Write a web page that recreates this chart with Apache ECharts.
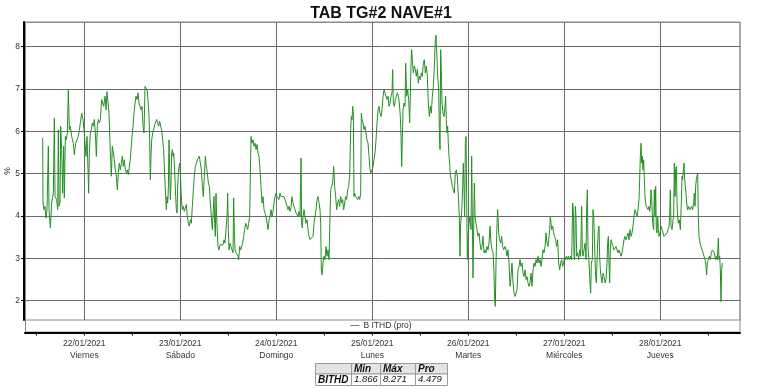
<!DOCTYPE html>
<html><head><meta charset="utf-8">
<script src="https://cdn.jsdelivr.net/npm/echarts@6/dist/echarts.min.js"></script>
<style>html,body{margin:0;padding:0;background:#fff}#c{width:762px;height:388px}</style>
</head><body><div id="c"></div>
<script>
// hours since 21/01/2021 00:00
const hours = [
13.59,13.68,13.93,14.18,14.43,14.68,15.01,15.18,15.51,15.84,
16.26,16.51,16.68,17.09,17.34,17.51,17.68,17.93,18.09,18.34,
18.59,18.84,19.01,19.26,19.51,19.76,20.01,20.26,20.51,20.84,
21.26,21.51,21.84,22.18,22.51,22.76,23.01,23.34,23.68,23.93,
24.18,24.43,24.68,24.93,25.09,25.26,25.51,25.76,26.01,26.26,
26.51,26.76,27.01,27.26,27.51,27.76,28.01,28.34,28.59,28.84,
29.18,29.43,29.68,29.93,30.18,30.43,30.59,30.76,31.01,31.26,
31.51,31.76,32.01,32.26,32.51,32.76,33.01,33.26,33.51,33.76,
34.01,34.26,34.51,34.76,35.01,35.26,35.51,35.68,35.93,36.18,
36.43,36.68,36.93,37.18,37.43,37.68,37.93,38.18,38.43,38.68,
38.93,
39.18,39.43,39.68,39.93,40.18,40.34,40.51,40.68,40.84,41.09,
41.34,41.59,41.84,42.09,42.34,42.59,42.84,43.09,43.34,43.59,
43.84,44.01,44.18,44.34,44.51,44.68,44.84,45.01,45.18,45.34,
45.51,45.68,45.84,46.01,46.18,46.34,46.51,46.68,46.84,47.01,
47.18,47.34,47.51,47.68,47.84,48.01,48.18,48.34,48.51,48.76,
49.01,49.26,49.51,49.76,50.01,50.26,50.51,50.76,51.01,51.26,
51.51,51.76,52.01,52.26,52.51,52.76,53.01,53.26,53.51,53.76,
54.01,54.26,54.51,54.76,55.01,55.26,55.51,55.76,56.01,56.26,
56.43,56.59,56.76,56.93,57.09,57.26,57.43,57.68,57.93,58.18,
58.43,58.68,58.93,59.18,59.43,59.68,59.84,60.01,60.18,60.43,
60.68,60.93,61.18,61.34,61.51,61.68,61.93,62.18,62.43,62.59,
62.84,63.09,63.34,63.59,63.84,64.09,64.34,64.59,64.84,65.09,
65.34,65.68,65.93,66.18,66.43,66.68,66.93,67.18,67.43,67.68,
67.93,68.18,68.43,68.68,68.93,
69.18,69.43,69.68,69.93,70.18,70.43,70.68,70.93,71.18,71.43,
71.68,71.93,72.18,72.43,72.68,72.93,73.18,73.43,73.68,73.93,
74.18,74.43,74.68,74.93,75.18,75.43,75.68,75.93,76.18,76.43,
76.68,76.93,77.18,77.43,77.68,77.93,78.18,78.34,78.51,78.68,
78.93,79.18,79.43,79.68,79.93,80.18,80.43,80.68,80.93,81.18,
81.43,81.68,81.93,82.18,82.43,82.68,82.93,83.09,83.26,83.43,
83.68,83.93,84.18,84.43,84.68,84.93,85.18,85.43,85.59,85.84,
86.09,86.34,86.59,86.84,87.09,87.34,87.59,87.84,88.09,88.34,
88.59,88.84,89.09,89.34,89.59,89.84,90.09,90.34,90.59,90.76,
90.93,91.09,91.26,91.43,91.59,91.84,92.09,92.34,92.59,92.84,
93.09,93.26,93.43,93.68,93.93,94.18,94.43,94.68,94.93,95.18,
95.43,95.68,95.93,96.18,96.43,96.68,96.93,97.18,97.43,97.68,
97.93,98.18,98.43,98.68,98.93,
99.18,99.43,99.68,99.93,100.18,100.43,100.68,100.93,101.09,101.26,
101.51,101.76,102.01,102.26,102.51,102.76,103.01,103.18,103.34,103.51,
103.68,103.93,104.18,104.34,104.59,104.84,105.09,105.34,105.51,105.68,
105.84,106.01,106.26,106.51,106.76,107.01,107.26,107.51,107.76,108.01,
108.26,108.51,108.76,109.01,109.26,109.51,109.76,110.01,110.26,110.51,
110.76,111.01,111.26,111.51,111.76,111.93,112.09,112.34,112.59,112.76,
112.93,113.09,113.26,113.43,113.68,113.93,114.18,114.34,114.51,114.68,
114.84,115.01,115.18,115.34,115.51,115.76,116.01,116.26,116.51,116.76,
117.01,117.26,117.51,117.76,117.93,118.09,118.34,118.59,118.76,118.93,
119.09,119.26,119.43,119.59,119.76,119.93,120.18,120.43,120.68,120.84,
121.01,121.18,121.34,121.51,121.68,121.93,122.18,122.43,122.68,122.93,
123.18,123.43,123.68,123.93,124.18,124.43,124.68,124.93,125.18,125.43,
125.68,125.93,126.18,126.43,126.59,126.76,126.93,127.18,127.34,127.59,
127.84,128.09,128.34,128.59,128.84,
129.18,129.43,129.68,129.93,130.18,130.43,130.68,130.93,131.18,131.43,
131.68,131.93,132.18,132.43,132.68,132.93,133.18,133.43,133.68,133.93,
134.18,134.43,134.68,134.93,135.18,135.43,135.68,135.93,136.18,136.43,
136.68,136.93,137.18,137.43,137.68,137.93,138.18,138.43,138.68,138.93,
139.18,139.43,139.68,139.93,140.18,140.34,140.51,140.68,140.84,141.09,
141.34,141.59,141.84,142.09,142.34,142.59,142.84,143.09,143.34,143.59,
143.84,144.09,144.34,144.59,144.84,145.09,145.34,145.59,145.84,146.09,
146.26,146.43,146.59,146.76,146.93,147.09,147.34,147.59,147.84,148.09,
148.34,148.51,148.68,148.93,149.18,149.43,149.59,149.76,149.93,150.18,
150.43,150.59,150.76,151.01,151.18,151.34,151.51,151.68,151.84,152.01,
152.18,152.34,152.51,152.68,152.84,153.01,153.18,153.43,153.68,153.93,
154.18,154.43,154.68,154.84,155.01,155.18,155.34,155.51,155.68,155.93,
156.18,156.43,156.68,156.93,157.18,157.43,157.68,157.93,158.18,158.43,
158.68,158.93,
159.18,159.43,159.68,159.93,160.18,160.43,160.68,160.93,161.18,161.43,
161.68,161.93,162.18,162.43,162.68,162.84,163.01,163.18,163.34,163.51,
163.68,163.84,164.01,164.18,164.34,164.51,164.68,164.93,165.18,165.34,
165.51,165.68,165.84,166.01,166.18,166.34,166.51,166.68,166.84,167.01,
167.18,167.34,167.51,167.68,167.93,168.18,168.43,168.68,168.93,169.18,
169.43,169.68,169.93,170.18,170.34,170.51,170.68,170.93,171.18,171.34,
171.51,171.68,171.84,172.01,172.18,172.34,172.51,172.76,173.01,173.26,
173.43,173.59,173.76,173.93,174.09,174.26,174.43,174.59,174.84,175.09,
175.34,175.59,175.84,176.09,176.34,176.51,176.68,176.84,177.01,177.18,
177.34,177.51,177.68,177.93,178.18,178.43,178.68,178.93,179.18,179.43,
179.59,179.76,180.01,180.26,180.51,180.76,181.01,181.26,181.51,181.76,
182.01,182.26,182.51,182.68,182.84,183.01,183.18,183.34,183.51
];
// B ITHD (pro) in %
const ithd = [
5.84,4.31,4.15,4.23,3.95,4.15,5.65,4.15,3.72,4.31,
4.54,6.31,4.46,4.39,4.15,6.04,4.23,4.31,6.12,5.57,
4.54,5.65,4.43,5.88,5.80,5.96,6.98,6.04,6.12,5.88,
5.72,5.45,5.72,5.80,5.88,6.04,6.20,6.43,6.28,6.04,
5.72,5.41,5.88,5.09,4.54,5.49,5.96,6.04,6.20,6.12,
6.28,5.96,5.41,6.12,6.28,6.20,6.28,6.75,6.71,6.59,
6.83,6.51,6.94,6.91,6.43,5.72,5.33,4.94,5.65,5.49,
5.33,5.09,4.94,4.62,5.02,5.25,5.09,5.25,5.41,5.17,
5.33,5.09,5.02,5.09,4.98,5.17,5.33,5.57,5.88,6.12,
6.43,6.67,6.83,6.75,6.91,6.67,6.71,6.51,6.59,6.12,
5.96,
7.06,7.10,6.98,6.75,6.35,5.80,4.86,5.41,5.80,5.96,
6.04,6.16,6.12,6.28,6.20,6.12,6.24,6.12,6.04,5.80,
5.57,5.17,4.78,4.46,4.15,4.46,4.31,4.62,5.80,5.09,
4.39,4.78,5.49,5.57,5.41,5.49,5.25,4.86,4.46,4.15,
4.07,4.70,5.02,5.17,5.25,5.02,4.62,4.31,4.15,4.23,
4.11,4.07,4.27,3.99,3.83,3.76,3.91,3.83,4.23,4.62,
4.94,5.17,5.25,5.33,5.37,5.41,5.25,5.09,4.70,4.46,
4.94,5.41,5.17,5.02,4.78,4.70,4.31,3.99,3.68,4.15,
4.46,3.83,3.52,4.54,3.99,3.60,3.28,3.20,3.32,3.28,
3.36,3.32,3.44,3.36,3.68,3.99,4.54,3.68,3.20,3.36,
3.28,3.20,3.13,4.43,3.68,3.20,3.13,3.17,3.05,2.97,
3.28,3.20,3.24,3.36,3.52,3.68,3.83,3.76,3.68,3.83,
3.99,5.88,5.72,5.80,5.65,5.72,5.57,5.69,5.49,5.41,
5.09,4.70,4.31,4.46,4.15,
4.15,3.99,3.83,3.68,3.91,3.99,4.15,3.99,4.11,4.31,
4.46,4.54,4.46,4.50,4.39,4.54,4.46,4.50,4.43,4.46,
4.50,4.31,4.23,4.15,4.23,4.11,4.19,4.46,4.31,4.23,
4.15,4.07,4.11,3.99,4.11,3.99,5.37,3.83,3.72,3.99,
4.15,3.99,3.83,3.91,3.68,3.52,3.44,3.48,3.40,3.52,
3.83,3.99,4.15,4.39,4.46,4.31,4.15,3.83,2.73,2.61,
2.89,3.05,2.97,3.28,3.05,3.20,2.97,3.99,4.62,4.70,
4.78,5.17,4.70,4.46,4.15,4.31,4.39,4.23,4.46,4.31,
4.39,4.15,4.31,4.46,4.39,4.62,4.70,4.94,6.04,6.35,
6.28,6.59,6.43,4.46,4.54,4.46,4.50,4.39,4.46,4.39,
4.54,6.43,6.28,6.20,6.04,6.12,5.96,5.80,5.72,5.41,
5.09,5.02,5.09,5.17,5.33,5.49,5.80,6.20,6.51,6.59,
6.43,6.35,6.51,6.83,6.98,
7.02,6.83,6.75,6.83,6.59,6.67,6.83,6.91,7.46,6.67,
6.59,6.75,6.83,6.91,6.83,6.67,6.35,5.88,5.17,5.80,
6.51,6.67,6.59,7.61,6.83,6.98,6.75,6.20,6.83,7.61,
7.93,7.69,7.38,7.54,7.46,7.30,7.46,7.14,7.30,7.22,
7.38,7.30,7.61,7.69,7.38,7.54,7.30,6.67,6.35,6.59,
6.43,6.83,7.06,7.54,8.17,8.271,7.93,7.30,6.98,6.04,
5.57,7.93,7.46,6.67,6.43,6.35,6.59,6.83,6.28,5.96,
6.12,5.72,5.41,5.25,4.94,4.86,4.70,4.62,4.54,5.02,
5.09,4.94,4.46,3.99,3.05,3.83,4.07,4.70,5.25,4.62,
3.99,5.72,5.88,4.46,2.97,3.52,3.83,3.99,3.68,5.41,
3.99,2.54,3.68,4.78,3.99,3.83,3.68,3.52,3.60,3.36,
3.20,3.28,3.52,3.13,3.20,3.13,3.28,3.20,3.36,3.76,
3.36,3.20,3.13,2.65,2.02,1.866,2.89,3.83,4.15,3.60,
3.44,3.36,3.52,3.28,3.20,
3.28,3.20,3.05,3.20,2.89,2.34,2.57,2.89,2.42,2.18,
2.10,2.18,2.26,2.73,2.81,2.97,2.81,2.89,2.65,2.57,
2.73,2.50,2.57,2.42,2.34,2.42,2.65,2.34,2.73,2.89,
2.81,2.97,2.89,3.05,2.89,2.97,2.81,2.97,3.20,3.13,
3.28,3.60,3.36,3.28,3.52,3.68,3.99,3.83,3.68,3.76,
3.60,3.52,3.44,3.28,3.44,2.89,2.73,2.89,2.97,2.81,
2.89,3.05,2.97,3.05,2.97,3.05,2.97,3.05,2.97,4.31,
4.15,3.05,2.97,4.23,3.99,3.05,3.13,2.97,3.20,3.05,
4.23,3.20,3.05,3.20,3.36,2.97,4.15,4.62,3.28,2.89,
2.42,2.18,2.89,2.97,4.15,3.99,3.52,2.97,2.57,2.42,
2.89,3.36,3.68,3.76,3.05,2.73,2.57,2.42,2.65,2.57,
2.42,2.50,2.89,3.36,3.52,2.89,2.42,3.20,3.44,3.36,
3.28,3.20,3.24,3.28,3.20,3.13,3.20,3.13,3.05,3.13,
3.28,3.44,
3.52,3.44,3.52,3.60,3.44,3.68,3.52,3.60,3.76,3.99,
4.15,4.07,3.99,4.15,4.39,4.86,5.41,5.72,5.25,5.41,
5.09,5.33,4.86,4.46,4.31,4.23,4.27,4.15,4.23,4.11,
4.23,4.62,4.46,3.99,3.76,3.68,4.62,3.99,4.70,3.68,
3.60,3.99,3.68,3.52,3.60,3.76,3.68,3.60,3.52,3.48,
3.52,3.60,3.68,3.76,3.99,4.62,3.76,3.68,3.91,3.99,
5.25,4.46,5.09,5.17,4.31,3.99,3.83,3.91,3.68,4.31,
4.94,4.86,5.09,5.25,4.86,4.70,4.54,4.31,4.15,4.23,
4.15,4.11,4.23,4.15,4.31,4.54,4.23,4.70,4.86,4.94,
5.02,3.99,3.52,3.36,3.28,3.20,3.13,3.05,2.97,2.81,
2.61,2.89,2.97,3.05,2.97,3.13,3.20,3.24,3.13,2.97,
3.05,2.97,3.48,2.97,3.05,2.73,1.98,2.73,2.89
];
const dayTicks = [24, 48, 72, 96, 120, 144, 168];
const dayLabels = ['22/01/2021\nViernes', '23/01/2021\nSábado', '24/01/2021\nDomingo',
  '25/01/2021\nLunes', '26/01/2021\nMartes', '27/01/2021\nMiércoles', '28/01/2021\nJueves'];
const halfDayTicks = [12, 24, 36, 48, 60, 72, 84, 96, 108, 120, 132, 144, 156, 168, 180];
const yTicks = [2, 3, 4, 5, 6, 7, 8];
const statHeaders = ['', 'Min', 'Máx', 'Pro'];
const statRow = ['BITHD', '1.866', '8.271', '4.479'];

const FONT = 'Liberation Sans, Arial, sans-serif';
const chart = echarts.init(document.getElementById('c'), null, {renderer: 'canvas'});
const n = Math.min(hours.length, ithd.length);
const seriesData = [];
for (let i = 0; i < n; i++) seriesData.push([hours[i], ithd[i]]);

// table graphics
const colX = [315, 351, 380, 415, 447];
const rowY = [363, 373.5, 385];
const tableEls = [];
for (let r = 0; r < 2; r++) {
  for (let c = 0; c < 4; c++) {
    const header = r === 0 || c === 0;
    tableEls.push({
      type: 'rect', silent: true,
      shape: {x: colX[c] + 0.5, y: rowY[r] + 0.5, width: colX[c + 1] - colX[c], height: rowY[r + 1] - rowY[r]},
      style: {fill: (r === 0) ? '#e4e4e4' : '#ffffff', stroke: '#9a9a9a', lineWidth: 1}
    });
    const txt = r === 0 ? statHeaders[c] : statRow[c];
    if (txt) tableEls.push({
      type: 'text', silent: true,
      x: colX[c] + 3, y: (rowY[r] + rowY[r + 1]) / 2 + 0.5,
      style: {text: txt, fill: '#111', font: (header ? 'italic bold 10px ' : 'italic 9.5px ') + FONT,
        textVerticalAlign: 'middle', verticalAlign: 'middle'}
    });
  }
}

chart.setOption({
  animation: false,
  backgroundColor: '#ffffff',
  title: {
    text: 'TAB TG#2 NAVE#1', left: 'center', top: 1,
    textStyle: {fontSize: 16, fontWeight: 'bold', color: '#111', fontFamily: FONT}
  },
  legend: {
    show: true, top: 321, left: 'center', padding: 0,
    itemWidth: 9, itemHeight: 1, itemGap: 4, icon: 'rect',
    itemStyle: {color: '#777'},
    textStyle: {fontSize: 8.5, color: '#333', fontFamily: FONT, padding: [0, 0, 0, -1]},
    data: ['B ITHD (pro)']
  },
  grid: {left: 25, top: 22, width: 715, height: 298, show: true, borderColor: '#8a8a8a', borderWidth: 1,
    containLabel: false, outerBoundsMode: 'none'},
  xAxis: [{
    type: 'value', min: 9.175, max: 187.925, position: 'bottom', offset: 12.5,
    axisLine: {show: true, onZero: false, lineStyle: {color: '#000', width: 2}},
    axisTick: {show: true, customValues: halfDayTicks, length: 3, lineStyle: {color: '#000'}},
    axisLabel: {show: true, customValues: dayTicks, margin: 5, fontSize: 8.5, lineHeight: 12, color: '#333', fontFamily: FONT,
      formatter: v => { const i = dayTicks.indexOf(Math.round(v)); return i >= 0 ? dayLabels[i] : ''; }},
    splitLine: {show: false}
  }, {
    type: 'value', min: 9.175, max: 187.925, position: 'top',
    axisLine: {show: false}, axisLabel: {show: false},
    axisTick: {show: false, customValues: dayTicks},
    splitLine: {show: true, lineStyle: {color: '#6a6a6a', width: 1}}
  }],
  yAxis: {
    type: 'value', min: 1.544, max: 8.583, offset: 1,
    name: '%', nameLocation: 'middle', nameRotate: 90, nameGap: 12, nameMoveOverlap: false,
    nameTextStyle: {fontSize: 8.5, color: '#333', fontFamily: FONT},
    axisLine: {show: true, onZero: false, lineStyle: {color: '#000', width: 2}},
    axisTick: {show: true, customValues: yTicks, length: 3, lineStyle: {color: '#000'}},
    axisLabel: {show: true, customValues: yTicks, margin: 4, fontSize: 8.5, color: '#333', fontFamily: FONT},
    splitLine: {show: true, lineStyle: {color: '#6a6a6a', width: 1}}
  },
  graphic: [{
    type: 'rect', silent: true, z: 0,
    shape: {x: 25.5, y: 22.5, width: 714.5, height: 309.5},
    style: {fill: null, stroke: '#8a8a8a', lineWidth: 1}
  }].concat(tableEls),
  series: [{
    name: 'B ITHD (pro)', type: 'line', data: seriesData,
    xAxisIndex: 0, yAxisIndex: 0,
    showSymbol: false, symbol: 'none',
    lineStyle: {color: '#249024', width: 1},
    itemStyle: {color: '#249024'}
  }]
});
</script>
</body></html>
